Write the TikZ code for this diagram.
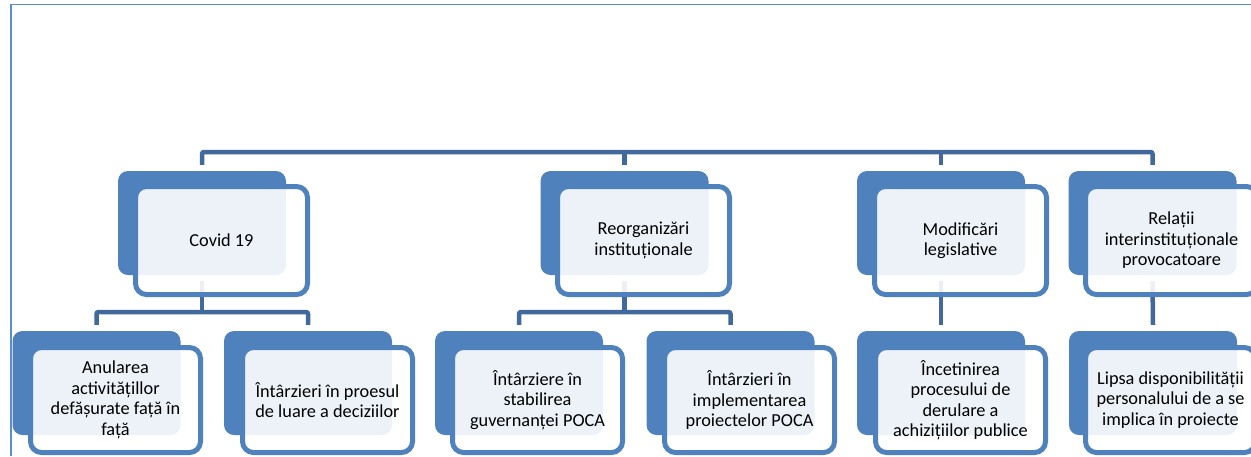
\documentclass[tikz,border=0pt]{standalone}
\usepackage{fontspec}
\setmainfont{Carlito}
\definecolor{acc}{HTML}{4F81BD}
\definecolor{lnk}{HTML}{41699C}
\definecolor{frm}{HTML}{5B8FCB}
\tikzset{
  back/.style={fill=acc, rounded corners=10pt, inner sep=0pt, minimum width=168pt, minimum height=104pt},
  front/.style={draw=acc, line width=5pt, fill=white, fill opacity=0.9, text opacity=1, draw opacity=1,
    rounded corners=11pt, align=center, inner sep=0pt, text=black,
    font=\fontsize{18.3}{20.5}\selectfont},
  frontA/.style={front, minimum width=172pt, minimum height=108pt},
  frontB/.style={front, minimum width=170pt, minimum height=105pt},
  conn/.style={draw=lnk, line width=4.5pt, rounded corners=2pt},
}
\begin{document}
\begin{tikzpicture}[x=1pt,y=-1pt]
\useasboundingbox (0,0) rectangle (1251,456);
\clip (0,0) rectangle (1251,456);
% frame
\draw[frm, line width=1.6pt] (11,456) -- (11,4.5) -- (1251,4.5);
% bar levels
\coordinate (top) at (0,152);
\coordinate (b2) at (0,312);
% back boxes level 1
\node[back] (covidB) at (202,223) {};
\node[back] (reorgB) at (624.5,223) {};
\node[back] (modifB) at (941,223) {};
\node[back] (relB) at (1152.5,223) {};
% back boxes level 2
\node[back] (anulB) at (96.5,383) {};
\node[back] (procB) at (308,383) {};
\node[back] (stabB) at (519,383) {};
\node[back] (implB) at (730.5,383) {};
\node[back] (incB) at (941,383) {};
\node[back] (lipB) at (1153,383) {};
% connectors top
\draw[conn] ([yshift=6pt]covidB.north) -- (covidB.north |- top) -- (relB.north |- top) -- ([yshift=6pt]relB.north);
\draw[conn] (reorgB.north |- top) -- ([yshift=6pt]reorgB.north);
\draw[conn] (modifB.north |- top) -- ([yshift=6pt]modifB.north);
% connectors level 2
\draw[conn] ([yshift=-6pt]covidB.south) -- (covidB.south |- b2);
\draw[conn] ([yshift=6pt]anulB.north) -- (anulB.north |- b2) -- (procB.north |- b2) -- ([yshift=6pt]procB.north);
\draw[conn] ([yshift=-6pt]reorgB.south) -- (reorgB.south |- b2);
\draw[conn] ([yshift=6pt]stabB.north) -- (stabB.north |- b2) -- (implB.north |- b2) -- ([yshift=6pt]implB.north);
\draw[conn] ([yshift=-6pt]modifB.south) -- ([yshift=6pt]incB.north);
\draw[conn] ([yshift=-6pt]relB.south) -- ([yshift=6pt]lipB.north);
% front boxes level 1
\node[frontA] (covid) at (221.5,240.5) {Covid 19};
\node[frontA] (reorg) at (643.5,240.5) {Reorganizări\\instituționale};
\node[frontA] (modif) at (960.5,240.5) {Modificări\\legislative};
\node[frontA] (rel) at (1171.5,240.5) {Relații\\interinstituționale\\provocatoare};
% front boxes level 2
\node[frontB] (anul) at (115.5,400) {Anularea\\activitățillor\\defășurate față în\\față};
\node[frontB] (proc) at (327.5,400) {Întârzieri în proesul\\de luare a deciziilor};
\node[frontB] (stab) at (537.5,400) {Întârziere în\\stabilirea\\guvernanței POCA};
\node[frontB] (impl) at (749.5,400) {Întârzieri în\\implementarea\\proiectelor POCA};
\node[frontB] (inc) at (960.5,400) {Încetinirea\\procesului de\\derulare a\\achizițiilor publice};
\node[frontB] (lip) at (1170.5,400) {Lipsa disponibilității\\personalului de a se\\implica în proiecte};
\end{tikzpicture}
\end{document}
